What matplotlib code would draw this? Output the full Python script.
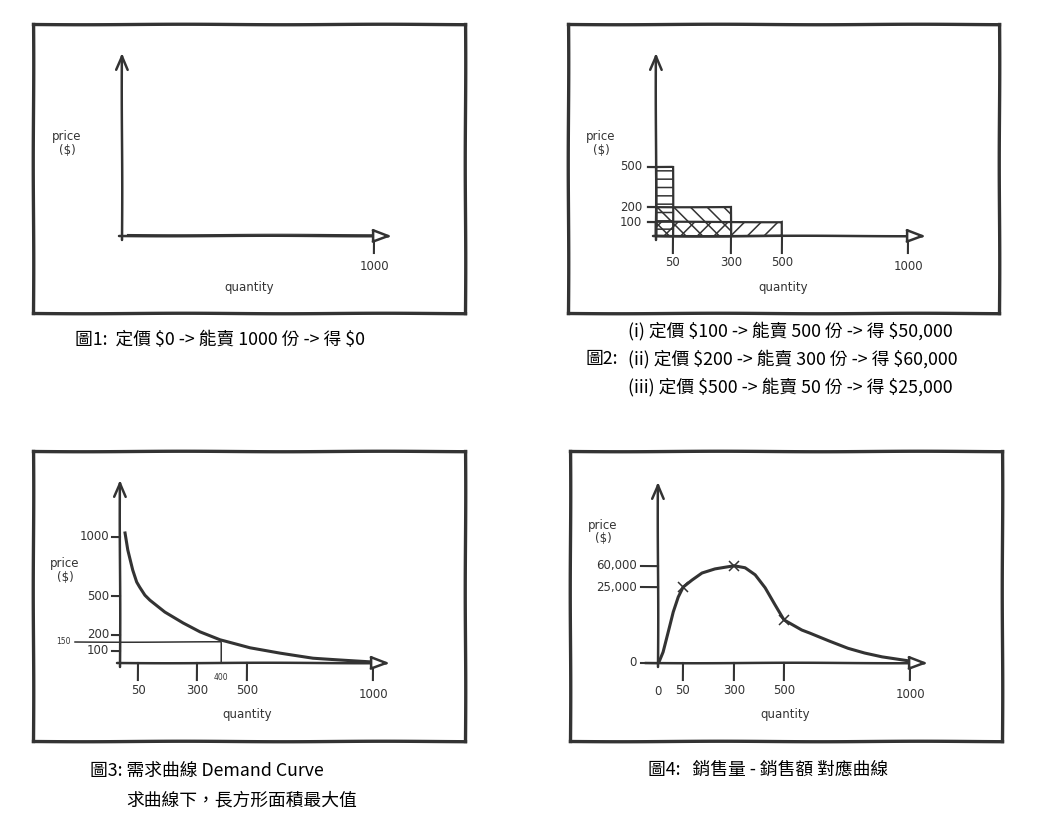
import numpy as np
import matplotlib
matplotlib.use('Agg')
import matplotlib.pyplot as plt

# hand-drawn look
plt.rcParams['font.family'] = ['Noto Sans CJK TC', 'DejaVu Sans']
plt.rcParams['path.sketch'] = (0.25, 200, 1)
plt.rcParams['hatch.linewidth'] = 1.1
INK = '#333333'

qty_ticks = [50, 300, 500, 1000]

# fig 2: three price choices
bar_price = [500, 200, 100]
bar_qty = [50, 300, 500]

# fig 3: demand curve
demand_qty = [14, 22, 36, 47, 58, 80, 101, 164, 241, 312, 396, 512, 631, 762, 1000]
demand_price = [1034, 890, 720, 619, 576, 508, 469, 377, 292, 223, 164, 117, 83, 42, 8]
demand_price_ticks = [1000, 500, 200, 100]
chosen_qty = 400
chosen_price = 150

# fig 4: quantity vs revenue
rev_qty = [0, 2, 10, 20, 30, 40, 50, 94, 143, 207, 300, 344, 384, 424, 464, 500, 571, 603, 680, 754, 820, 889, 992]
rev_amount = [0, 330, 3600, 10200, 16800, 21700, 25000, 36700, 48300, 55000, 60000, 56700, 45000, 24700, 19100,
              14200, 10900, 9900, 7300, 4900, 3300, 2000, 660]
rev_mark_qty = [50, 300, 500]
rev_mark_amount = [25000, 60000, 14200]
rev_ticks = [0, 25000, 60000]
rev_tick_labels = ['0', '25,000', '60,000']

W, H = 1062, 838
fig = plt.figure(figsize=(W / 100, H / 100), dpi=100)
fig.patch.set_facecolor('white')


def sketch_scale(vals, px):
    # piecewise linear scale: the sketches are not drawn to scale
    vals = np.asarray(vals, float)
    px = np.asarray(px, float)

    def make(a, b):
        def f(v):
            v = np.asarray(v, float)
            out = np.interp(v, a, b)
            s0 = (b[1] - b[0]) / (a[1] - a[0])
            s1 = (b[-1] - b[-2]) / (a[-1] - a[-2])
            out = np.where(v < a[0], b[0] + (v - a[0]) * s0, out)
            out = np.where(v > a[-1], b[-1] + (v - a[-1]) * s1, out)
            return out
        return f
    return make(vals, px), make(px, vals)


def panel(box, origin, xk, yk):
    l, t, r, b = box
    ox, oy = origin
    ax = fig.add_axes([l / W, 1 - b / H, (r - l) / W, (b - t) / H])
    fx, ix = sketch_scale(*xk)
    fy, iy = sketch_scale(*yk)
    ax.set_xscale('function', functions=(fx, ix))
    ax.set_yscale('function', functions=(fy, iy))
    ax.set_xlim(float(ix(l - ox)), float(ix(r - ox)))
    ax.set_ylim(float(iy(oy - b)), float(iy(oy - t)))
    ax.set_xticks([])
    ax.set_yticks([])
    ax.set_xticks([], minor=True)
    ax.set_yticks([], minor=True)
    for s in ax.spines.values():
        s.set_linewidth(2.4)
        s.set_color(INK)
    X = lambda d: float(ix(d))
    Y = lambda d: float(iy(d))
    return ax, X, Y


def draw_axes(ax, X, Y, x_from=-3, x_to=270, y_to=183):
    ax.annotate('', xy=(X(0), Y(y_to)), xytext=(X(0), Y(-4)),
                arrowprops=dict(arrowstyle='->,head_length=0.7,head_width=0.3', lw=1.8,
                                color=INK, shrinkA=0, shrinkB=0, mutation_scale=14))
    ax.annotate('', xy=(X(x_to), Y(0)), xytext=(X(x_from), Y(0)),
                arrowprops=dict(arrowstyle='-|>,head_length=0.8,head_width=0.3', lw=1.8,
                                ec=INK, fc='white', shrinkA=0, shrinkB=0, mutation_scale=14))


def fig_text(x, y, s, **kw):
    fig.text(x / W, 1 - y / H, s, parse_math=False, **kw)


lab = dict(fontsize=8.5, color=INK, family='DejaVu Sans')


def axis_labels(ox, oy, price_dy=93):
    fig_text(ox - 55, oy - price_dy, 'price\n($)', ha='center', va='center', linespacing=1.1, **lab)
    fig_text(ox + 127, oy + 51, 'quantity', ha='center', va='center', **lab)


def x_ticks(ax, X, Y, ticks):
    for q in ticks:
        top = -4 if q == 1000 else 0
        ax.plot([q, q], [Y(top), Y(-17)], color=INK, lw=1.5)
        ax.text(q, Y(-31 if q == 1000 else -27), str(q), ha='center', va='center', **lab)


x_knots = ([0, 50, 300, 500, 1000], [0, 17, 75, 126, 252])
y_knots = ([0, 100, 200, 500], [0, 13.5, 28.5, 69])

# ---- fig 1 ----
ax1, X1, Y1 = panel((33, 24, 465, 313), (122, 236), x_knots, y_knots)
draw_axes(ax1, X1, Y1)
ax1.plot([X1(5), X1(255)], [Y1(1.5), Y1(1.5)], color=INK, lw=0.8)
x_ticks(ax1, X1, Y1, [1000])
axis_labels(122, 236)

# ---- fig 2 ----
ax2, X2, Y2 = panel((568, 24, 999, 313), (656, 236), x_knots, y_knots)
bar_hatch = ['--', '\\\\', '//']
for q, p, h in zip(bar_qty, bar_price, bar_hatch):
    ax2.bar(0, p, width=q, align='edge', fill=False, hatch=h, edgecolor=INK, lw=1.6)
for p in bar_price:
    ax2.plot([X2(-8), X2(0)], [p, p], color=INK, lw=1.6)
    ax2.text(X2(-14), p, str(p), ha='right', va='center', **lab)
draw_axes(ax2, X2, Y2)
x_ticks(ax2, X2, Y2, qty_ticks)
axis_labels(656, 236)

# ---- fig 3 ----
ax3, X3, Y3 = panel((33, 451, 465, 741), (120, 663),
                    ([0, 50, 300, 400, 500, 1000], [0, 18, 77, 101, 127, 253]),
                    ([0, 100, 150, 200, 500, 1000], [0, 12, 21, 28, 67, 126]))
draw_axes(ax3, X3, Y3)
ax3.plot(demand_qty, demand_price, color=INK, lw=2.2, solid_joinstyle='round')
for p in demand_price_ticks:
    ax3.plot([X3(-8), X3(0)], [p, p], color=INK, lw=1.5)
    ax3.text(X3(-11), p, str(p), ha='right', va='center', **lab)
ax3.plot([X3(-45), chosen_qty, chosen_qty], [chosen_price, chosen_price, 0], color=INK, lw=1.1)
ax3.text(X3(-57), chosen_price, str(chosen_price), ha='center', va='center',
         fontsize=5.5, color=INK, family='DejaVu Sans')
ax3.text(chosen_qty, Y3(-14), str(chosen_qty), ha='center', va='center',
         fontsize=5.5, color=INK, family='DejaVu Sans')
x_ticks(ax3, X3, Y3, qty_ticks)
axis_labels(120, 663)

# ---- fig 4 ----
ax4, X4, Y4 = panel((570, 451, 1002, 741), (658, 663),
                    ([0, 50, 300, 500, 1000], [0, 25, 76, 126, 252]),
                    ([0, 25000, 60000], [0, 76, 97]))
draw_axes(ax4, X4, Y4, x_from=-13, y_to=181)
ax4.plot(rev_qty, rev_amount, color=INK, lw=2.2, solid_joinstyle='round')
ax4.plot(rev_mark_qty, rev_mark_amount, 'x', color=INK, ms=7, mew=1.1)
for v, s in zip(rev_ticks, rev_tick_labels):
    ax4.plot([X4(-17), X4(0)], [v, v], color=INK, lw=1.5)
    ax4.text(X4(-21), v, s, ha='right', va='center', **lab)
x_ticks(ax4, X4, Y4, qty_ticks)
ax4.text(0, Y4(-28), '0', ha='center', va='center', **lab)
axis_labels(658, 663, price_dy=131)

# ---- captions ----
cap = dict(fontsize=12.8, color='black', ha='left', va='center')
fig_text(75, 340, '圖1:  定價 $0 -> 能賣 1000 份 -> 得 $0', **cap)
fig_text(628, 331, '(i) 定價 $100 -> 能賣 500 份 -> 得 $50,000', **cap)
fig_text(586, 359, '圖2:', **cap)
fig_text(628, 359, '(ii) 定價 $200 -> 能賣 300 份 -> 得 $60,000', **cap)
fig_text(628, 387, '(iii) 定價 $500 -> 能賣 50 份 -> 得 $25,000', **cap)
fig_text(90, 772, '圖3: 需求曲線 Demand Curve', **cap)
fig_text(126, 800, '求曲線下，長方形面積最大值', **cap)
fig_text(648, 770, '圖4:   銷售量 - 銷售額 對應曲線', **cap)

fig.savefig('out.png', dpi=100, facecolor='white')
